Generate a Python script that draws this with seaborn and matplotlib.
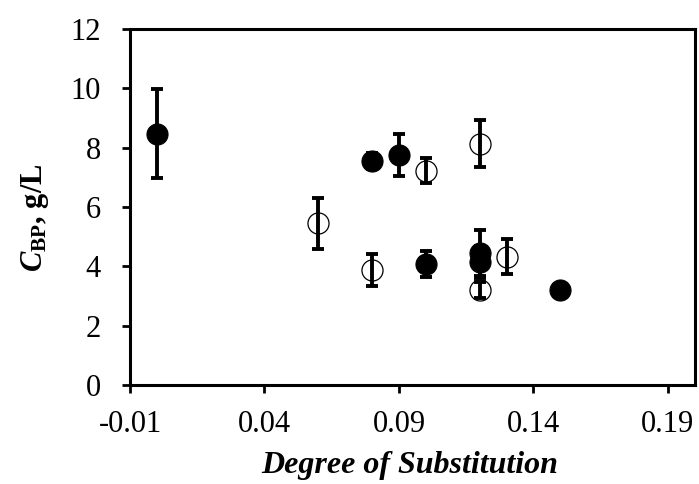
import numpy as np
import pandas as pd
import matplotlib
matplotlib.use("Agg")
import matplotlib.pyplot as plt
import seaborn as sns

# filled symbols
filled_x = [0.00, 0.08, 0.09, 0.10, 0.12, 0.12, 0.15]
filled_y = [8.47, 7.55, 7.75, 4.08, 4.45, 4.15, 3.20]
filled_err = [1.50, 0.28, 0.70, 0.45, 0.78, 0.55, 0.10]

# open symbols
open_x = [0.06, 0.08, 0.10, 0.12, 0.12, 0.13]
open_y = [5.45, 3.88, 7.22, 8.14, 3.20, 4.33]
open_err = [0.87, 0.53, 0.42, 0.80, 0.28, 0.58]

x_ticks = [-0.01, 0.04, 0.09, 0.14, 0.19]
x_labels = ["-0.01", "0.04", "0.09", "0.14", "0.19"]
y_ticks = [0, 2, 4, 6, 8, 10, 12]

sns.set_style("ticks")
plt.rcParams["font.family"] = ["Liberation Serif", "DejaVu Serif"]
plt.rcParams["mathtext.fontset"] = "custom"
plt.rcParams["mathtext.rm"] = "Liberation Serif"
plt.rcParams["mathtext.it"] = "Liberation Serif:italic"
plt.rcParams["mathtext.bf"] = "Liberation Serif:bold"
plt.rcParams["mathtext.bfit"] = "Liberation Serif:italic:bold"

df_f = pd.DataFrame({"x": filled_x, "y": filled_y, "err": filled_err})
df_o = pd.DataFrame({"x": open_x, "y": open_y, "err": open_err})

fig = plt.figure(figsize=(6.99, 4.84), dpi=100)
ax = fig.add_axes([0.186, 0.2045, 0.808, 0.7355])

sns.scatterplot(data=df_f, x="x", y="y", ax=ax, color="black", s=230,
                edgecolor="black", linewidth=0.8, zorder=2)
sns.scatterplot(data=df_o, x="x", y="y", ax=ax, color="white", s=230,
                edgecolor="black", linewidth=0.9, zorder=2)

for d in (df_f, df_o):
    ax.errorbar(d["x"], d["y"], yerr=d["err"], fmt="none", ecolor="black",
                elinewidth=2.8, capsize=4.5, capthick=2.8, zorder=3)

ax.set_xlim(-0.01, 0.2)
ax.set_ylim(0, 12)
ax.set_xticks(x_ticks)
ax.set_xticklabels(x_labels)
ax.set_yticks(y_ticks)

for sp in ax.spines.values():
    sp.set_visible(True)
    sp.set_linewidth(2.2)
    sp.set_color("black")
ax.tick_params(axis="both", direction="out", length=6, width=2,
               labelsize=22, colors="black")
ax.tick_params(axis="x", pad=12)
ax.tick_params(axis="y", pad=15)

ax.set_xlabel("Degree of Substitution", fontsize=23, fontweight="bold",
              fontstyle="italic", color="black")
ax.set_ylabel(r"$\mathbfit{C}_{\mathbf{BP}}$, g/L", fontsize=22,
              fontweight="bold", color="black")
ax.xaxis.set_label_coords(0.496, -0.185)
ax.yaxis.set_label_coords(-0.14, 0.47)

fig.savefig("out.png", dpi=100)
